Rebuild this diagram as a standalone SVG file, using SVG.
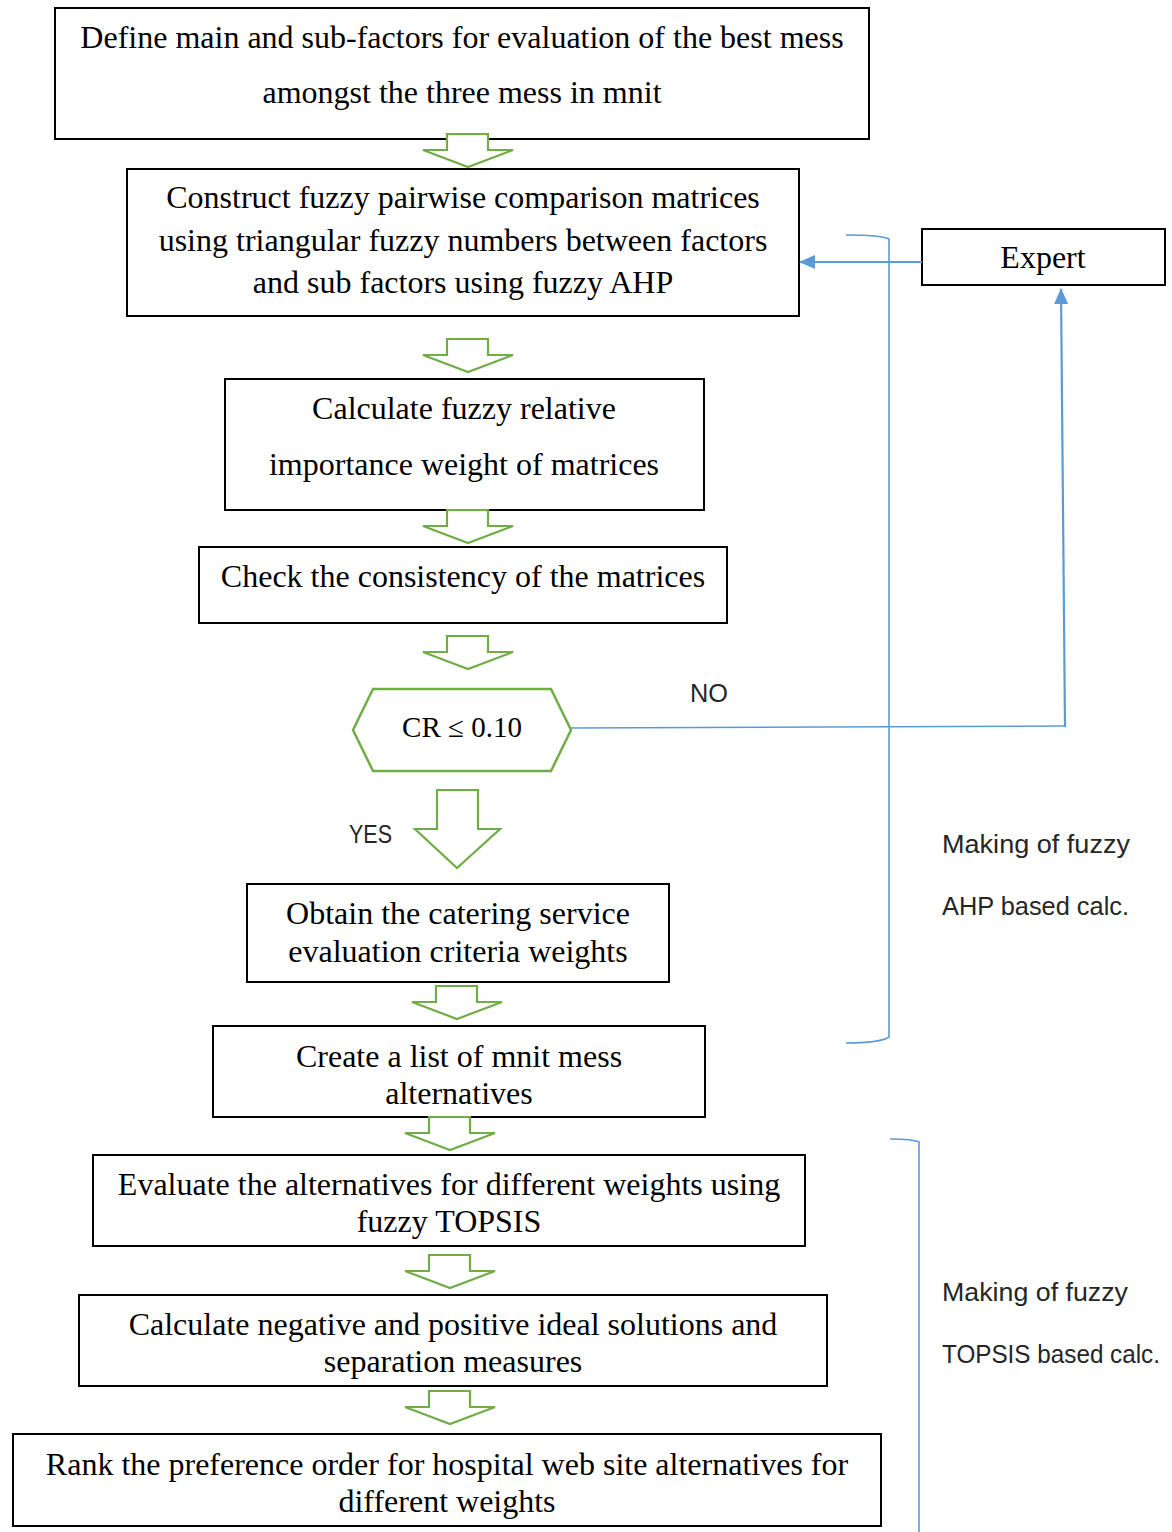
<svg xmlns="http://www.w3.org/2000/svg" xmlns:xlink="http://www.w3.org/1999/xlink" width="1172" height="1532" viewBox="0 0 1172 1532">
<style>
.box{fill:#fff;stroke:#000;stroke-width:2}
.t{font-family:"Liberation Serif","Times New Roman",serif;font-size:32px;fill:#000;text-anchor:middle}
.c{font-family:"Liberation Sans",Arial,sans-serif;font-size:25px;fill:#262626}
.ba{fill:#fff;stroke:#70AD47;stroke-width:2.2}
.bl{fill:none;stroke:#5B9BD5;stroke-width:2.2}
.br{fill:none;stroke:#5B9BD5;stroke-width:1.6}
</style>
<defs>
<path id="barrow" d="M-21,0 H20 V16 H45 L0,33 L-45,16 H-21 Z"/>
<marker id="ah2" markerWidth="16" markerHeight="16" refX="15" refY="8" orient="auto" markerUnits="userSpaceOnUse" viewBox="0 0 16 16">
<path d="M0,1 L16,8 L0,15 Z" fill="#5B9BD5"/>
</marker>
</defs>
<rect width="1172" height="1532" fill="#fff"/>

<g id="n1"><rect class="box" x="55" y="8" width="814" height="131"/>
<text class="t" x="462" y="48">Define main and sub-factors for evaluation of the best mess</text>
<text class="t" x="462" y="103">amongst the three mess in mnit</text></g>

<g id="n2"><rect class="box" x="127" y="169" width="672" height="147"/>
<text class="t" x="463" y="208">Construct fuzzy pairwise comparison matrices</text>
<text class="t" x="463" y="251">using triangular fuzzy numbers between factors</text>
<text class="t" x="463" y="293">and sub factors using fuzzy AHP</text></g>

<g id="n3"><rect class="box" x="225" y="379" width="479" height="131"/>
<text class="t" x="464" y="419">Calculate fuzzy relative</text>
<text class="t" x="464" y="475">importance weight of matrices</text></g>

<g id="n4"><rect class="box" x="199" y="547" width="528" height="76"/>
<text class="t" x="463" y="587">Check the consistency of the matrices</text></g>

<g id="n5"><path d="M353,730 L373,689 H551 L571,730 L551,771 H373 Z" fill="#fff" stroke="#70AD47" stroke-width="2.5"/>
<text class="t" x="462" y="737" style="font-size:29px">CR ≤ 0.10</text></g>

<g id="n6"><rect class="box" x="247" y="884" width="422" height="98"/>
<text class="t" x="458" y="924">Obtain the catering service</text>
<text class="t" x="458" y="962">evaluation criteria weights</text></g>

<g id="n7"><rect class="box" x="213" y="1026" width="492" height="91"/>
<text class="t" x="459" y="1067">Create a list of mnit mess</text>
<text class="t" x="459" y="1104">alternatives</text></g>

<g id="n8"><rect class="box" x="93" y="1155" width="712" height="91"/>
<text class="t" x="449" y="1195">Evaluate the alternatives for different weights using</text>
<text class="t" x="449" y="1232">fuzzy TOPSIS</text></g>

<g id="n9"><rect class="box" x="79" y="1295" width="748" height="91"/>
<text class="t" x="453" y="1335">Calculate negative and positive ideal solutions and</text>
<text class="t" x="453" y="1372">separation measures</text></g>

<g id="n10"><rect class="box" x="13" y="1434" width="868" height="92"/>
<text class="t" x="447" y="1475">Rank the preference order for hospital web site alternatives for</text>
<text class="t" x="447" y="1512">different weights</text></g>

<g id="expert"><rect class="box" x="922" y="229" width="243" height="56"/>
<text class="t" x="1043" y="268">Expert</text></g>

<g id="labels">
<text class="c" x="690" y="702" textLength="38" lengthAdjust="spacingAndGlyphs">NO</text>
<text class="c" x="349" y="843" textLength="43" lengthAdjust="spacingAndGlyphs">YES</text>
<text class="c" x="942" y="853" textLength="188" lengthAdjust="spacingAndGlyphs">Making of fuzzy</text>
<text class="c" x="942" y="915" textLength="187" lengthAdjust="spacingAndGlyphs">AHP based calc.</text>
<text class="c" x="942" y="1301" textLength="186" lengthAdjust="spacingAndGlyphs">Making of fuzzy</text>
<text class="c" x="942" y="1363" textLength="218" lengthAdjust="spacingAndGlyphs">TOPSIS based calc.</text>
</g>

<g id="connectors">
<use xlink:href="#barrow" class="ba" transform="translate(468,134)"/>
<use xlink:href="#barrow" class="ba" transform="translate(468,339)"/>
<use xlink:href="#barrow" class="ba" transform="translate(468,510)"/>
<use xlink:href="#barrow" class="ba" transform="translate(468,636)"/>
<path class="ba" d="M437,790 H478 V829 H500 L457,868 L415,829 H437 Z"/>
<use xlink:href="#barrow" class="ba" transform="translate(457,986)"/>
<use xlink:href="#barrow" class="ba" transform="translate(450,1117)"/>
<use xlink:href="#barrow" class="ba" transform="translate(450,1255)"/>
<use xlink:href="#barrow" class="ba" transform="translate(450,1391)"/>
<path class="bl" d="M922,262 H800" marker-end="url(#ah2)"/>
<path class="br" d="M571,728 L1065,726"/>
<path class="bl" d="M1065,727 L1061,289" marker-end="url(#ah2)"/>
<path class="br" d="M846,235 Q880,235 889,239 V1037 Q880,1043 846,1043"/>
<path class="br" d="M890,1139 Q912,1139 919,1142 V1532"/>
</g>
</svg>
